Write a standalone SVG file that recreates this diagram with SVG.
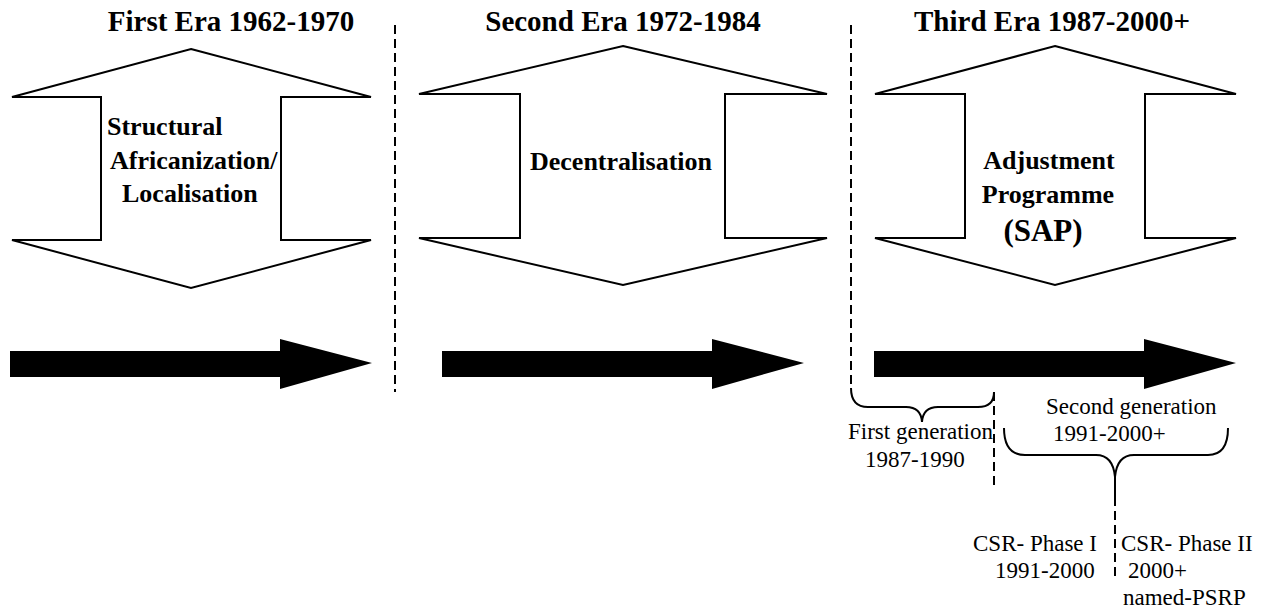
<svg xmlns="http://www.w3.org/2000/svg" width="1264" height="609" viewBox="0 0 1264 609">
<style>
.t{font-family:"Liberation Serif","Times New Roman",serif;fill:#000}
.b{font-weight:bold}
.h{font-size:29px;font-weight:bold}
.m{font-size:26px;font-weight:bold}
.s{font-size:23px}
.dbl{fill:#fff;stroke:#000;stroke-width:2;stroke-linejoin:miter}
.blk{fill:#000;stroke:none}
.dash{fill:none;stroke:#000;stroke-width:2;stroke-dasharray:9 5}
.br{fill:none;stroke:#000;stroke-width:2}
</style>
<rect width="1264" height="609" fill="#fff"/>
<g id="era1">
<text class="t h" x="231" y="31" text-anchor="middle">First Era 1962-1970</text>
<polygon class="dbl" points="191,49 371,97 281,97 281,240 371,240 191,288 12,240 101,240 101,97 12,97"/>
<text class="t m" x="107" y="135">Structural</text>
<text class="t m" x="110" y="169">Africanization/</text>
<text class="t m" x="122" y="202">Localisation</text>
<polygon class="blk" points="10,351 280,351 280,339 372,363 280,389 280,377 10,377"/>
</g>
<g id="era2">
<text class="t h" x="623" y="31" text-anchor="middle">Second Era 1972-1984</text>
<polygon class="dbl" points="623,46 827,94 725,94 725,238 827,238 623,285 419,238 520,238 520,94 419,94"/>
<text class="t m" x="621" y="170" text-anchor="middle">Decentralisation</text>
<polygon class="blk" points="442,351 712,351 712,339 804,363 712,389 712,377 442,377"/>
</g>
<g id="era3">
<text class="t h" x="1052" y="31" text-anchor="middle">Third Era 1987-2000+</text>
<polygon class="dbl" points="1055,46 1236,94 1145,94 1145,238 1236,238 1055,285 875,238 965,238 965,94 875,94"/>
<text class="t m" x="1049" y="169" text-anchor="middle">Adjustment</text>
<text class="t m" x="1048" y="203" text-anchor="middle">Programme</text>
<text class="t b" style="font-size:31px" x="1043" y="241" text-anchor="middle">(SAP)</text>
<polygon class="blk" points="874,351 1144,351 1144,339 1236,363 1144,389 1144,377 874,377"/>
</g>
<g id="first-generation">
<text class="t s" x="848" y="439">First generation</text>
<text class="t s" x="865" y="467">1987-1990</text>
</g>
<g id="second-generation">
<text class="t s" x="1046" y="414">Second generation</text>
<text class="t s" x="1053" y="441">1991-2000+</text>
</g>
<g id="csr-phase-1">
<text class="t s" x="973" y="551">CSR- Phase I</text>
<text class="t s" x="995" y="578">1991-2000</text>
</g>
<g id="csr-phase-2">
<text class="t s" x="1121" y="551">CSR- Phase II</text>
<text class="t s" x="1128" y="578">2000+</text>
<text class="t s" x="1123" y="605">named-PSRP</text>
</g>
<g id="connectors">
<line class="dash" x1="395" y1="25" x2="395" y2="392"/>
<line class="dash" x1="851" y1="25" x2="851" y2="388"/>
<path class="br" d="M851,388 Q851,407 868,407 L906,407 Q921,407 922,422 Q923,407 938,407 L978,407 Q994,407 994,392"/>
<line class="dash" x1="994" y1="392" x2="994" y2="487"/>
<path class="br" d="M1004,428 Q1004,455 1025,455 L1096,455 Q1113,455 1115,477 Q1117,455 1134,455 L1208,455 Q1228,455 1228,428"/>
<line class="br" x1="1115" y1="477" x2="1115" y2="497"/>
<line class="dash" x1="1115" y1="497" x2="1115" y2="580"/>
</g>
</svg>
